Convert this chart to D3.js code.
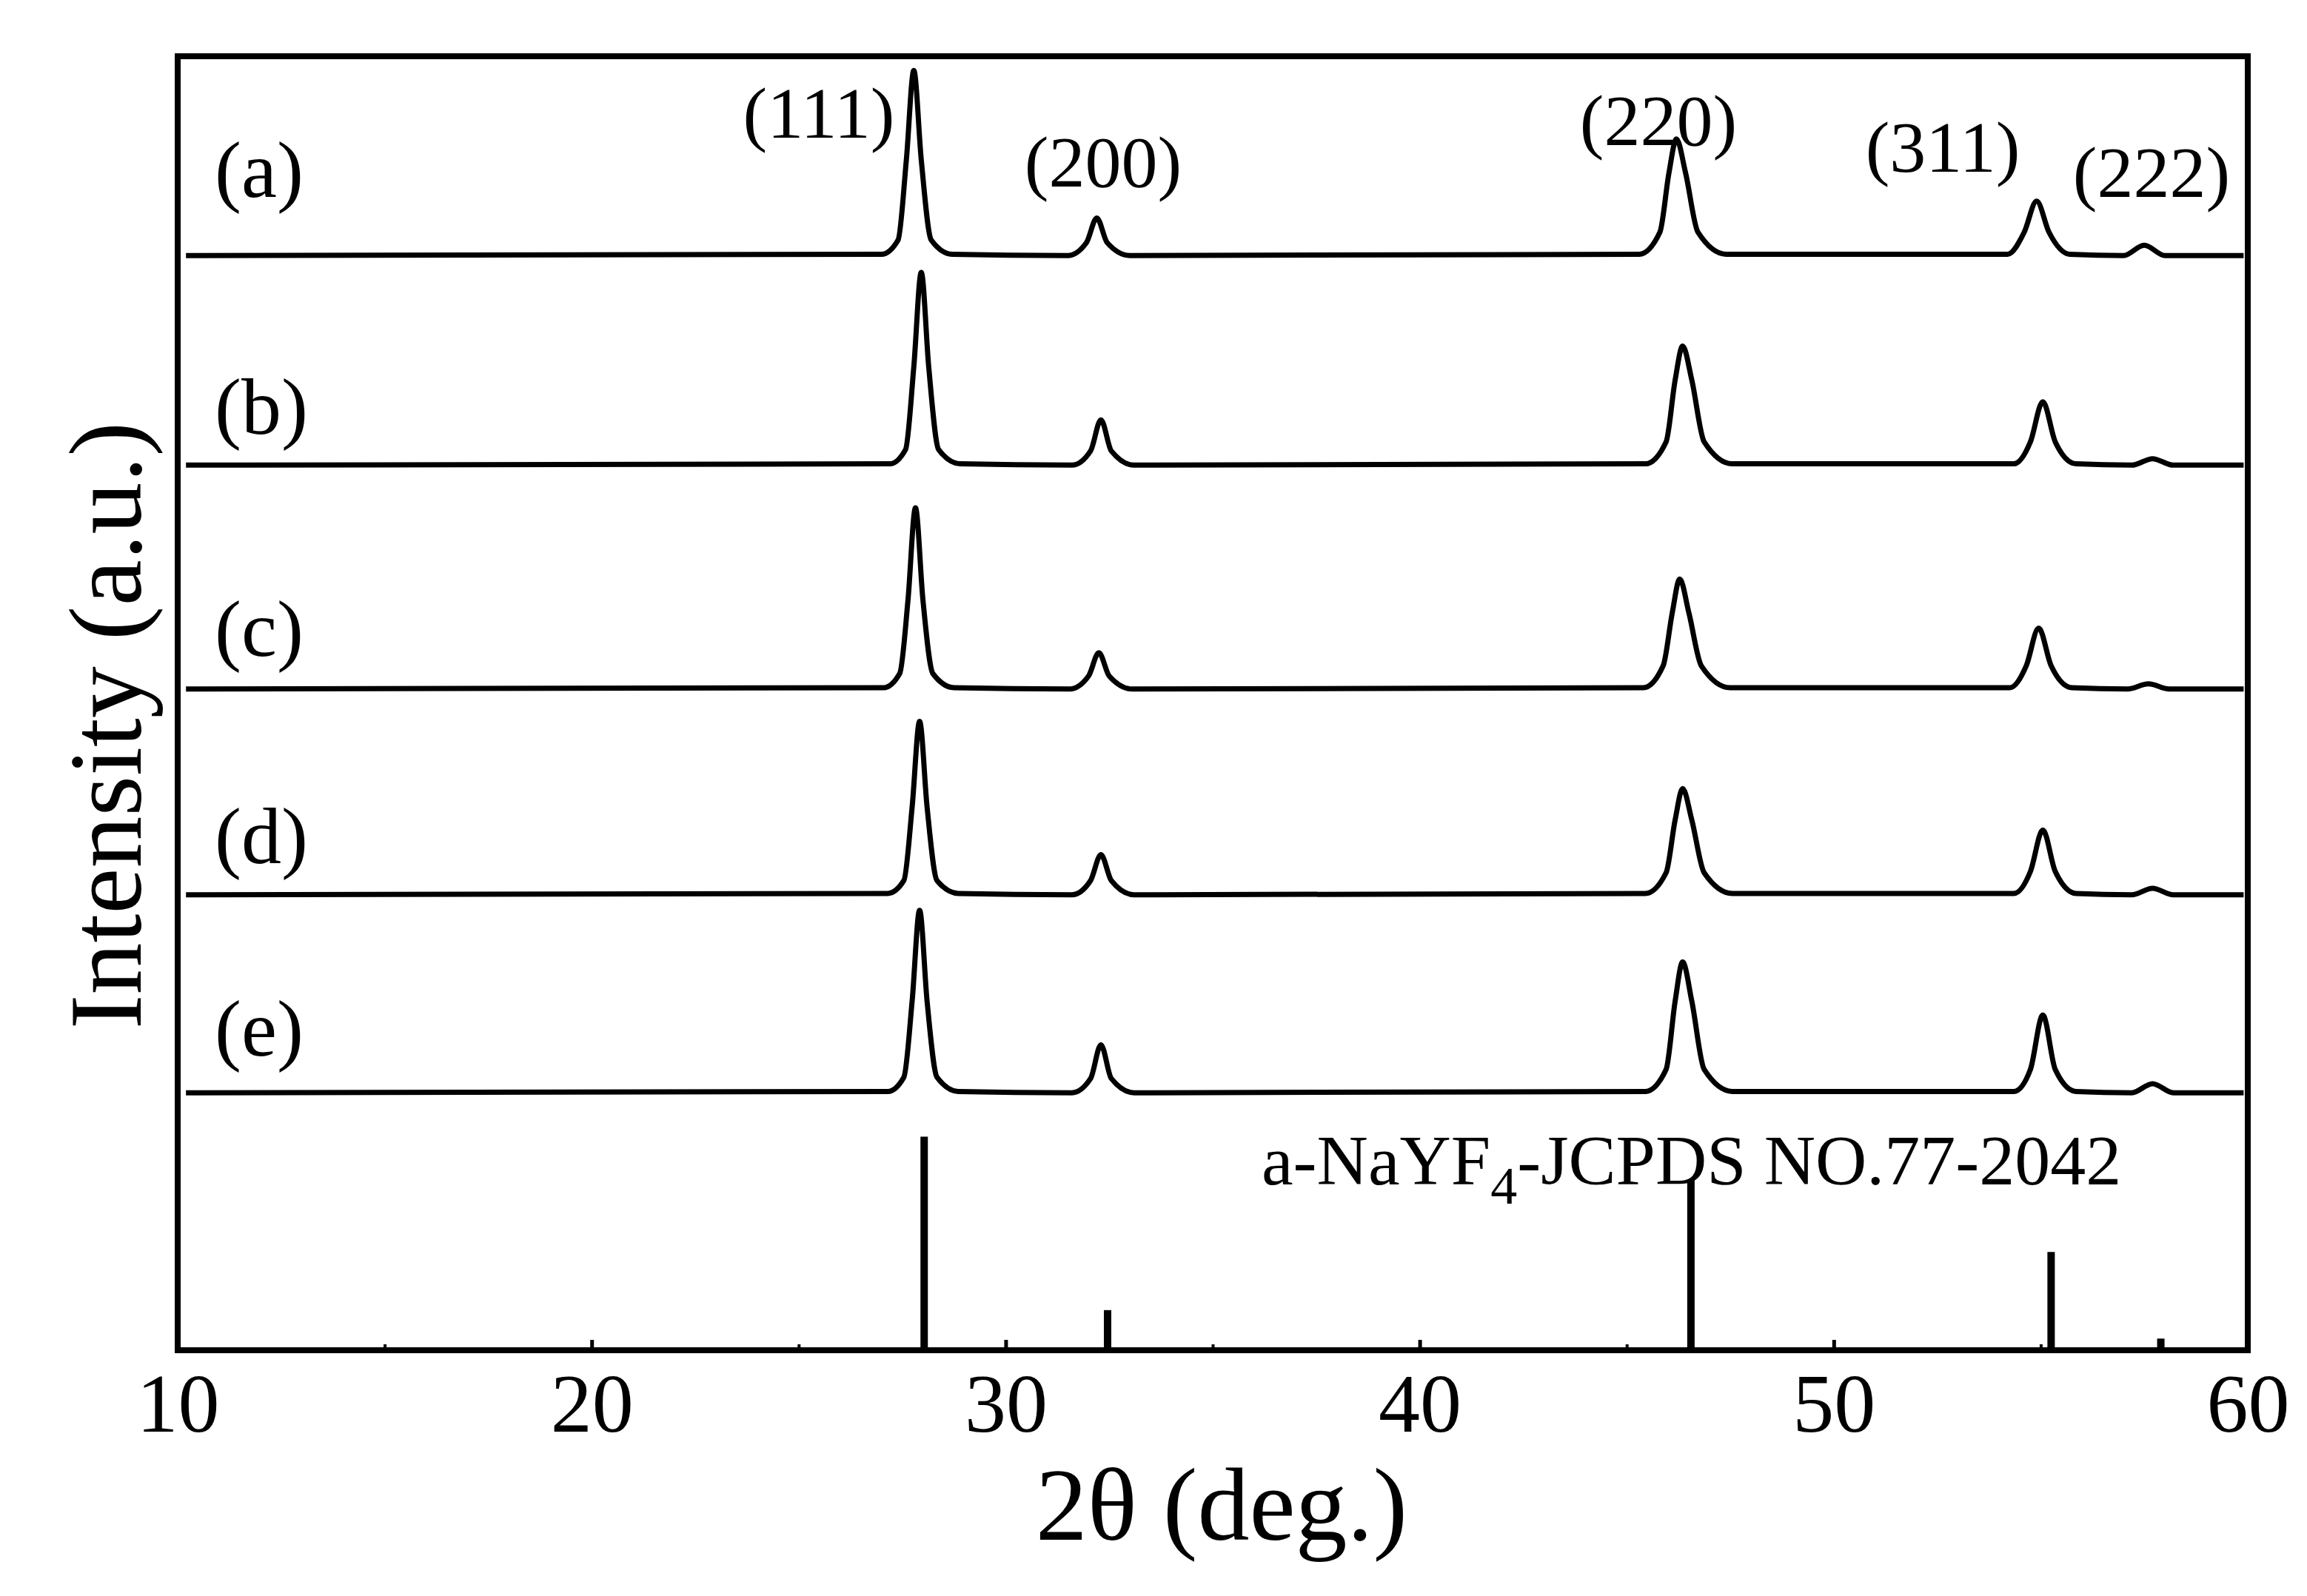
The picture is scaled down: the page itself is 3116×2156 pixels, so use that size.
<!DOCTYPE html>
<html><head><meta charset="utf-8">
<script src="https://cdn.jsdelivr.net/npm/d3@7"></script>
<style>body{margin:0;background:#fff}text{font-family:"Liberation Serif","Times New Roman",serif;fill:#000}</style>
</head><body>
<script>
// XRD patterns, [2theta, offset intensity]
const seriesA = [[10.2,84.6],[27.0,84.7],[27.4,85.8],[27.6,92],[27.78,98.9],[27.96,92],[28.2,85.8],[28.7,84.7],[31.5,84.6],[31.95,85.6],[32.2,87.5],[32.45,85.6],[33.0,84.6],[45.3,84.7],[45.8,86.4],[46.02,91],[46.2,93.6],[46.42,91],[46.72,86.4],[47.4,84.7],[54.2,84.7],[54.6,86.4],[54.9,88.8],[55.2,86.4],[55.7,84.7],[57.0,84.6],[57.5,85.4],[58.0,84.6],[59.9,84.6]];
const seriesB = [[10.2,68.4],[27.2,68.5],[27.58,69.6],[27.78,76],[27.96,83.3],[28.14,76],[28.38,69.6],[28.9,68.5],[31.6,68.4],[32.05,69.5],[32.3,71.9],[32.55,69.5],[33.1,68.4],[45.45,68.5],[45.95,70.2],[46.17,75],[46.35,77.6],[46.57,75],[46.87,70.2],[47.55,68.5],[54.35,68.5],[54.75,70.2],[55.05,73.3],[55.35,70.2],[55.85,68.5],[57.2,68.4],[57.7,68.9],[58.2,68.4],[59.9,68.4]];
const seriesC = [[10.2,51.1],[27.05,51.2],[27.44,52.3],[27.64,58],[27.82,65.1],[28.0,58],[28.24,52.3],[28.75,51.2],[31.55,51.1],[32.0,52.1],[32.25,53.9],[32.5,52.1],[33.05,51.1],[45.4,51.2],[45.88,52.9],[46.1,57],[46.28,59.6],[46.5,57],[46.8,52.9],[47.5,51.2],[54.25,51.2],[54.65,52.9],[54.95,55.8],[55.25,52.9],[55.75,51.2],[57.1,51.1],[57.6,51.5],[58.1,51.1],[59.9,51.1]];
const seriesD = [[10.2,35.2],[27.15,35.3],[27.54,36.3],[27.74,42],[27.92,48.6],[28.1,42],[28.34,36.3],[28.85,35.3],[31.6,35.2],[32.05,36.3],[32.3,38.3],[32.55,36.3],[33.1,35.2],[45.45,35.3],[45.95,36.9],[46.17,41],[46.35,43.4],[46.57,41],[46.87,36.9],[47.55,35.3],[54.35,35.3],[54.75,37.0],[55.05,40.2],[55.35,37.0],[55.85,35.3],[57.2,35.2],[57.7,35.7],[58.2,35.2],[59.9,35.2]];
const seriesE = [[10.2,19.9],[27.15,20.0],[27.54,21.1],[27.74,27],[27.92,34.0],[28.1,27],[28.34,21.1],[28.85,20.0],[31.6,19.9],[32.05,21.0],[32.3,23.6],[32.55,21.0],[33.1,19.9],[45.45,20.0],[45.95,21.7],[46.17,27],[46.35,30.0],[46.57,27],[46.87,21.7],[47.55,20.0],[54.35,20.0],[54.75,21.7],[55.05,25.9],[55.35,21.7],[55.85,20.0],[57.2,19.9],[57.7,20.6],[58.2,19.9],[59.9,19.9]];
const allSeries = [seriesA, seriesB, seriesC, seriesD, seriesE];
const seriesLabels = ["(a)", "(b)", "(c)", "(d)", "(e)"];
const seriesLabelY = [266, 586, 886, 1166, 1426];
// JCPDS reference lines
const refPos = [28.03, 32.46, 46.55, 55.25, 57.9];
const refInt = [16.5, 3.1, 13.2, 7.6, 0.9];
const hklLabels = ["(111)", "(200)", "(220)", "(311)", "(222)"];
const hklPos = [[1106,186],[1490,252],[2240,196],[2624,232],[2906,266]];
const xTicks = [10, 20, 30, 40, 50, 60];

const W = 3116, H = 2156;
const m = {left: 240, right: 3036, top: 76, bottom: 1824};
const svg = d3.select("body").append("svg").attr("width", W).attr("height", H);
const x = d3.scaleLinear().domain([10, 60]).range([m.left, m.right]);
const y = d3.scaleLinear().domain([0, 100]).range([m.bottom, m.top]);

const line = d3.line().x(d => x(d[0])).y(d => y(d[1])).curve(d3.curveMonotoneX);
allSeries.forEach(s => {
    svg.append("path").attr("d", line(s)).attr("fill", "none")
        .attr("stroke", "#000").attr("stroke-width", 7).attr("stroke-linejoin", "round");
});
refPos.forEach((p, i) => {
    svg.append("line").attr("x1", x(p)).attr("x2", x(p))
        .attr("y1", y(0)).attr("y2", y(refInt[i]))
        .attr("stroke", "#000").attr("stroke-width", 10);
});

// frame
svg.append("rect").attr("x", m.left).attr("y", m.top)
    .attr("width", m.right - m.left).attr("height", m.bottom - m.top)
    .attr("fill", "none").attr("stroke", "#000").attr("stroke-width", 8);

const xAxis = svg.append("g").attr("transform", "translate(0," + m.bottom + ")")
    .call(d3.axisBottom(x).tickValues(xTicks).tickSize(-14).tickPadding(30).tickFormat(d3.format("d")));
xAxis.select(".domain").remove();
xAxis.selectAll(".tick line").attr("stroke-width", 5);
xAxis.selectAll("text").attr("font-size", 112).attr("font-family", "Liberation Serif");
svg.append("g").attr("transform", "translate(0," + m.bottom + ")")
    .call(d3.axisBottom(x).tickValues([15, 25, 35, 45, 55]).tickSize(-8).tickFormat(""))
    .call(g => g.select(".domain").remove())
    .selectAll("line").attr("stroke-width", 4);

svg.append("text").attr("x", 1650).attr("y", 2080).attr("text-anchor", "middle")
    .attr("font-size", 140).text("2θ (deg.)");
svg.append("text").attr("transform", "translate(190,980) rotate(-90)")
    .attr("text-anchor", "middle").attr("font-size", 140).text("Intensity (a.u.)");

seriesLabels.forEach((l, i) => {
    svg.append("text").attr("x", 290).attr("y", seriesLabelY[i]).attr("font-size", 108).text(l);
});
hklLabels.forEach((l, i) => {
    svg.append("text").attr("x", hklPos[i][0]).attr("y", hklPos[i][1])
        .attr("text-anchor", "middle").attr("font-size", 98).text(l);
});
const jc = svg.append("text").attr("x", 1704).attr("y", 1600).attr("font-size", 96);
jc.append("tspan").text("a-NaYF");
jc.append("tspan").attr("dy", 26).attr("font-size", 72).text("4");
jc.append("tspan").attr("dy", -26).text("-JCPDS NO.77-2042");
</script>
</body></html>
